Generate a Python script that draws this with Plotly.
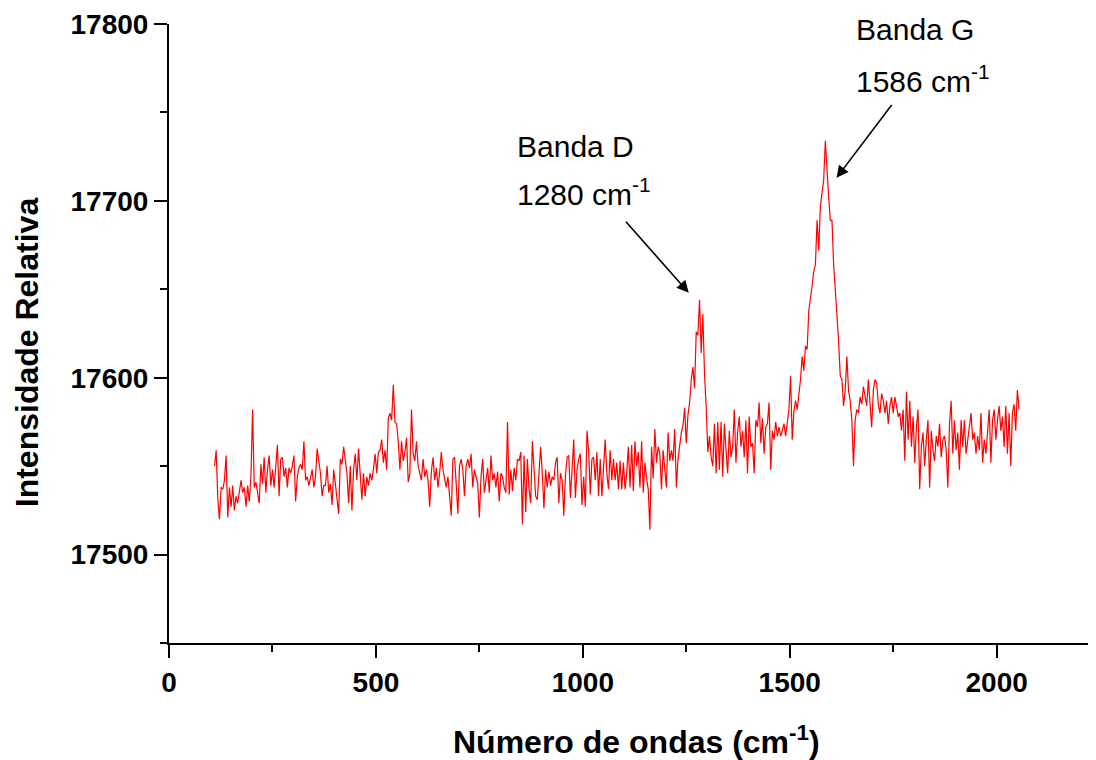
import plotly.graph_objects as go

# Raman spectrum sampled every 4 cm-1 starting at 110 cm-1
wavenumber_start = 110
wavenumber_step = 4

intensity_a = [
    17550,17559,17531,17520,17538,17537,17542,17556,17521,17538,
    17527,17539,17525,17533,17529,17536,17542,17535,17538,17527,
    17539,17530,17544,17582,17538,17541,17535,17529,17551,17540,
    17555,17535,17548,17556,17539,17548,17538,17550,17562,17533,
    17554,17555,17544,17549,17538,17549,17546,17550,17556,17530,
    17544,17549,17551,17548,17564,17542,17544,17539,17544,17548,
    17538,17544,17560,17554,17546,17533,17539,17539,17550,17535,
    17540,17528,17548,17540,17533,17523,17554,17551,17561,17554,
    17546,17529,17550,17525,17548,17557,17542,17560,17548,17531,
    17546,17533,17544,17539,17546,17542,17548,17557,17546,17558,
    17559,17565,17552,17559,17548,17577,17580,17576,17596,17575,
    17574,17564,17548,17564,17553,17558,17566,17541,17546,17582,
    17557,17553,17564,17550,17546,17542,17554,17544,17548,17542,
    17527,17547,17555,17542,17549,17538,17546,17558,17548,17542,
    17538,17544,17533,17522,17554,17555,17540,17523,17550,17554,
    17548,17533,17550,17554,17549,17557,17538,17548,17544,17540,
    17521,17544,17554,17535,17542,17549,17535,17556,17542,17546,
    17538,17547,
]

intensity_b = [
    17530,17546,17544,17538,17535,17575,17534,17548,17536,17549,
    17542,17554,17553,17558,17517,17556,17524,17554,17537,17529,
    17564,17550,17533,17531,17550,17561,17546,17526,17548,17538,
    17547,17539,17544,17542,17552,17555,17529,17546,17542,17522,
    17545,17555,17556,17532,17548,17565,17532,17548,17554,17557,
    17528,17544,17527,17570,17559,17534,17554,17555,17542,17558,
    17533,17554,17533,17550,17565,17546,17537,17559,17542,17554,
    17542,17552,17537,17553,17537,17552,17537,17546,17561,17538,
    17562,17536,17564,17550,17558,17538,17564,17535,17552,17543,
    17537,17514,17561,17543,17571,17552,17561,17557,17537,17559,
    17548,17538,17569,17553,17559,17553,17571,17538,17554,17562,
    17569,17573,17583,17563,17579,17586,
]

intensity_c = [
    17599,17606,17594,17626,17624,17644,17614,17636,17602,17584,
    17558,17567,17555,17550,17574,17546,17575,17548,17575,17544,
    17574,17559,17546,17570,17555,17561,17582,17552,17569,17578,
    17561,17570,17555,17576,17546,17578,17561,17563,17546,17576,
    17572,17586,17563,17577,17557,17572,17574,17586,17548,17570,
    17565,17575,17567,17572,17567,17570,17574,17567,17575,17582,
    17601,17565,17581,17587,17582,17589,17599,17612,17604,17618,
    17616,17638,17644,17652,
]

intensity_d = [
    17660,17664,17689,17672,17697,17706,17712,17734,17716,17702,
    17689,17689,17664,17651,17633,17621,17601,17599,17584,17593,
    17612,17593,17587,17576,17550,17576,17582,17580,17589,17585,
    17595,17589,17584,17599,17585,17572,17593,17599,17597,17585,
    17580,17591,17587,17580,17587,17574,17584,17589,17580,17589,
    17584,17578,17580,17570,17582,17553,17592,17565,17587,17561,
    17578,17552,17572,17582,17537,17561,17569,17550,17565,17576,
    17538,17570,17559,17553,17567,17561,17574,17555,17565,17567,
    17559,17538,17574,17587,17557,17576,17559,17569,17548,17576,
    17561,17576,17557,17565,17574,17580,17565,17569,17557,17567,
    17559,17580,17552,17565,17557,17570,17582,17552,17576,17582,
    17565,17576,17584,17570,17578,17561,17584,17557,17580,17550,
    17580,17585,17570,17593,17582,
]

intensity = intensity_a + intensity_b + intensity_c + intensity_d
wavenumber = [wavenumber_start + wavenumber_step * i for i in range(len(intensity))]

x_ticks = [0, 500, 1000, 1500, 2000]
y_ticks = [17500, 17600, 17700, 17800]

band_d = dict(name="Banda D", pos="1280", tip=(1256, 17648), tail=(1101, 17689), label_x=836,
              label_y1=17731, label_y2=17705)
band_g = dict(name="Banda G", pos="1586", tip=(1613, 17713), tail=(1749, 17755), label_x=1656,
              label_y1=17797, label_y2=17769)

FONT = "Liberation Sans, Arial, Helvetica, sans-serif"

fig = go.Figure()
fig.add_trace(go.Scatter(x=wavenumber, y=intensity, mode="lines",
                         line=dict(color="#ff0000", width=1.2), showlegend=False))

for b in (band_d, band_g):
    fig.add_annotation(x=b["tip"][0], y=b["tip"][1], ax=b["tail"][0], ay=b["tail"][1],
                       xref="x", yref="y", axref="x", ayref="y", text="",
                       showarrow=True, arrowhead=2, arrowsize=1.5, arrowwidth=1.6,
                       arrowcolor="black", standoff=0)
    fig.add_annotation(x=b["label_x"], y=b["label_y1"], xref="x", yref="y",
                       text=b["name"], showarrow=False, xanchor="left", yanchor="middle",
                       font=dict(family=FONT, size=30, color="black"))
    fig.add_annotation(x=b["label_x"], y=b["label_y2"], xref="x", yref="y",
                       text=b["pos"] + " cm<sup>-1</sup>", showarrow=False,
                       xanchor="left", yanchor="middle",
                       font=dict(family=FONT, size=30, color="black"))

fig.add_annotation(x=0.504, y=-0.157, xref="paper", yref="paper",
                   text="<b>Número de ondas (cm<sup>-1</sup>)</b>", showarrow=False,
                   xanchor="center", yanchor="middle", borderpad=0,
                   font=dict(family=FONT, size=32, color="black"))
fig.add_annotation(x=-0.153, y=0.47, xref="paper", yref="paper",
                   text="<b>Intensidade Relativa</b>", showarrow=False, textangle=-90,
                   xanchor="center", yanchor="middle",
                   font=dict(family=FONT, size=32, color="black"))

fig.update_xaxes(range=[0, 2240], tickvals=x_ticks, ticktext=[str(v) for v in x_ticks],
                 ticks="outside", ticklen=13, tickwidth=2, tickcolor="black",
                 minor=dict(dtick=250, tick0=0, ticks="outside", ticklen=7, tickwidth=2,
                            tickcolor="black", showgrid=False),
                 showline=True, linecolor="black", linewidth=2, showgrid=False,
                 zeroline=False, tickfont=dict(family=FONT, size=28, color="black", weight="bold"))
fig.update_yaxes(range=[17450, 17800], tickvals=y_ticks, ticktext=[str(v) for v in y_ticks],
                 ticks="outside", ticklen=13, tickwidth=2, tickcolor="black",
                 minor=dict(dtick=50, tick0=17450, ticks="outside", ticklen=7, tickwidth=2,
                            tickcolor="black", showgrid=False),
                 showline=True, linecolor="black", linewidth=2, showgrid=False,
                 zeroline=False, tickfont=dict(family=FONT, size=28, color="black", weight="bold"))

# page body has an 8px margin, so the figure is sized to fill the rest of the window
fig.update_layout(width=1088, height=752, plot_bgcolor="white", paper_bgcolor="white",
                  margin=dict(l=161, r=0, t=16, b=117), showlegend=False)

fig.write_html("out.html")
